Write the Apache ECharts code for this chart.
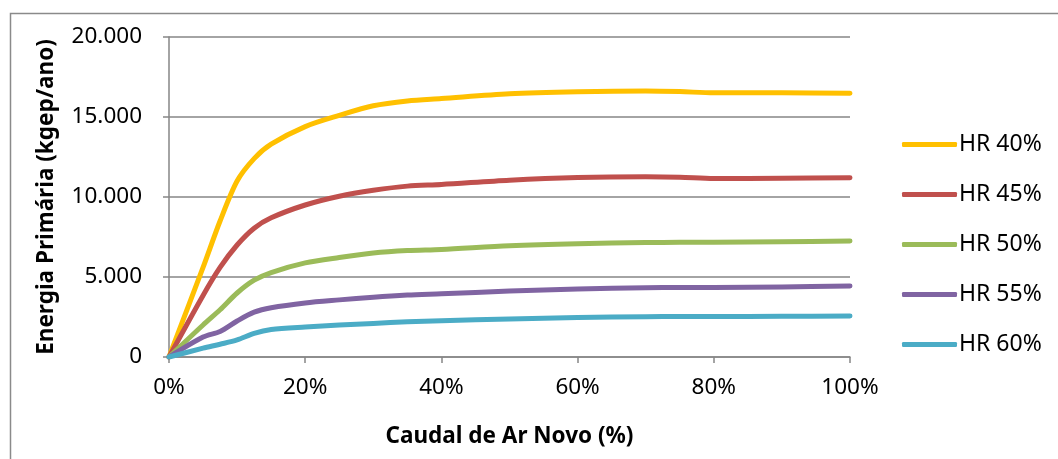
<!DOCTYPE html>
<html>
<head>
<meta charset="utf-8">
<script src="https://cdn.jsdelivr.net/npm/echarts@6/dist/echarts.min.js"></script>
<style>
html,body{margin:0;padding:0;background:#fff;}
#chart{width:1058px;height:459px;}
</style>
</head>
<body>
<div id="chart"></div>
<script>
const xValues = [0, 5, 7.5, 10, 12.5, 15, 20, 25, 30, 35, 40, 50, 60, 70, 75, 80, 90, 100];
const seriesNames = ['HR 40%', 'HR 45%', 'HR 50%', 'HR 55%', 'HR 60%'];
const hr40 = [0, 5600, 8500, 11000, 12400, 13300, 14400, 15100, 15700, 16000, 16150, 16450, 16580, 16630, 16590, 16510, 16510, 16480];
const hr45 = [0, 3850, 5600, 7000, 8050, 8700, 9500, 10050, 10420, 10680, 10780, 11050, 11220, 11270, 11240, 11160, 11170, 11200];
const hr50 = [0, 2000, 2950, 4000, 4800, 5280, 5880, 6220, 6500, 6650, 6720, 6950, 7080, 7150, 7170, 7170, 7200, 7250];
const hr55 = [0, 1250, 1600, 2250, 2800, 3080, 3380, 3570, 3740, 3870, 3950, 4120, 4250, 4330, 4340, 4350, 4380, 4440];
const hr60 = [0, 550, 800, 1070, 1480, 1720, 1880, 2000, 2100, 2200, 2270, 2380, 2470, 2520, 2525, 2530, 2540, 2560];
const seriesValues = [hr40, hr45, hr50, hr55, hr60];
const colors = ['#FFC000', '#C0504D', '#9BBB59', '#8064A2', '#4BACC6'];
const yTitle = 'Energia Primária (kgep/ano)';
const xTitle = 'Caudal de Ar Novo (%)';

const font = '"Noto Sans", "Liberation Sans", sans-serif';
const chart = echarts.init(document.getElementById('chart'), null, {renderer: 'canvas'});
chart.setOption({
  animation: false,
  backgroundColor: '#fff',
  graphic: [{
    type: 'rect', left: 8, top: 11,
    shape: {width: 1200, height: 600},
    style: {fill: 'none', stroke: '#8a8a8a', lineWidth: 1.5},
    silent: true
  }],
  grid: {left: 169, right: 208, top: 37, bottom: 102, containLabel: false},
  legend: {
    orient: 'vertical',
    left: 897, top: 128,
    itemWidth: 55, itemHeight: 5, itemGap: 27,
    icon: 'roundRect',
    textStyle: {fontFamily: font, fontSize: 23, lineHeight: 21, color: '#000', padding: [0,0,0,-3]},
    data: seriesNames
  },
  xAxis: {
    type: 'value', min: 0, max: 100, interval: 20,
    name: xTitle, nameLocation: 'middle', nameGap: 68,
    nameTextStyle: {fontFamily: font, fontSize: 22.5, fontWeight: 'bold', color: '#000'},
    axisLine: {show: true, lineStyle: {color: '#868686', width: 1.5}},
    axisTick: {show: true, length: 6, inside: false, lineStyle: {color: '#868686', width: 1.5}},
    axisLabel: {fontFamily: font, fontSize: 22.5, color: '#000', margin: 19, formatter: v => v + '%'},
    splitLine: {show: false}
  },
  yAxis: {
    type: 'value', min: 0, max: 20000, interval: 5000,
    name: yTitle, nameLocation: 'middle', nameGap: 111, nameRotate: 90,
    nameTextStyle: {fontFamily: font, fontSize: 22.5, fontWeight: 'bold', color: '#000'},
    axisLine: {show: true, lineStyle: {color: '#868686', width: 1.5}},
    axisTick: {show: true, length: 6, lineStyle: {color: '#868686', width: 1.5}},
    axisLabel: {fontFamily: font, fontSize: 22.5, color: '#000', margin: 27,
      formatter: v => v === 0 ? '0' : String(v).replace(/\B(?=(\d{3})+(?!\d))/g, '.')},
    splitLine: {show: true, lineStyle: {color: '#868686', width: 1.5}}
  },
  series: seriesNames.map((n, i) => ({
    name: n, type: 'line', smooth: 0.3, showSymbol: false, symbol: 'none',
    data: xValues.map((x, j) => [x, seriesValues[i][j]]),
    lineStyle: {color: colors[i], width: 5, cap: 'round', join: 'round'},
    itemStyle: {color: colors[i]}
  }))
});
</script>
</body>
</html>
